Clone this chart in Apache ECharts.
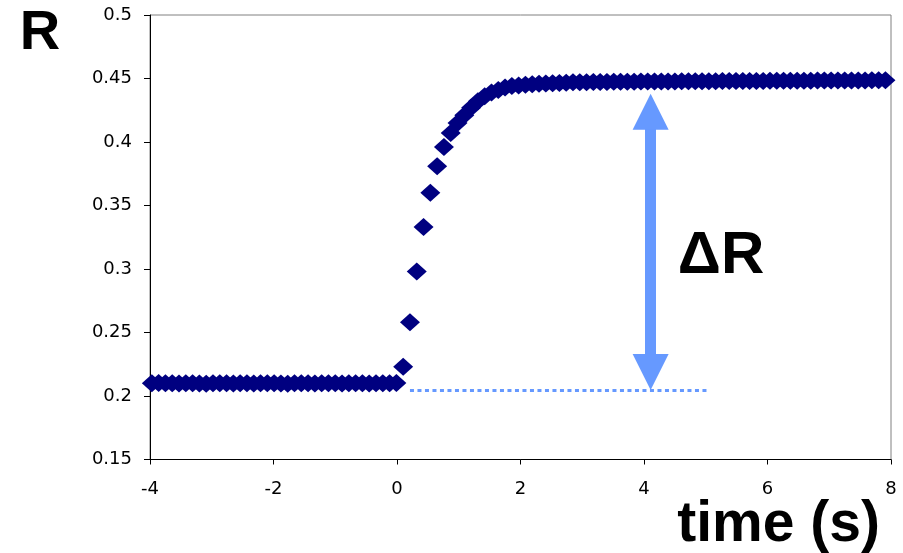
<!DOCTYPE html>
<html>
<head>
<meta charset="utf-8">
<title>R vs time</title>
<script src="https://cdn.jsdelivr.net/npm/echarts@6/dist/echarts.min.js"></script>
<style>
    html, body { margin: 0; padding: 0; background: #ffffff; }
    #chart { width: 903px; height: 553px; }
</style>
</head>
<body>
<div id="chart"></div>
<script>
    // time (s) of each sample
    var times = [
        -3.97, -3.86, -3.75, -3.64, -3.53, -3.42, -3.31, -3.20, -3.09, -2.98,
        -2.87, -2.76, -2.65, -2.54, -2.43, -2.32, -2.21, -2.10, -1.99, -1.88,
        -1.77, -1.66, -1.55, -1.44, -1.33, -1.22, -1.11, -1.00, -0.89, -0.78,
        -0.67, -0.56, -0.45, -0.34, -0.23, -0.12, -0.01,
        0.10, 0.21, 0.32, 0.43, 0.54, 0.65, 0.76, 0.87, 0.98, 1.09,
        1.20, 1.31, 1.42, 1.53, 1.64, 1.75, 1.86, 1.97, 2.08, 2.19,
        2.30, 2.41, 2.52, 2.63, 2.74, 2.85, 2.96, 3.07, 3.18, 3.29,
        3.40, 3.51, 3.62, 3.73, 3.84, 3.95, 4.06, 4.17, 4.28, 4.39,
        4.50, 4.61, 4.72, 4.83, 4.94, 5.05, 5.16, 5.27, 5.38, 5.49,
        5.60, 5.71, 5.82, 5.93, 6.04, 6.15, 6.26, 6.37, 6.48, 6.59,
        6.70, 6.81, 6.92, 7.03, 7.14, 7.25, 7.36, 7.47, 7.58, 7.69,
        7.80, 7.91
    ];
    // measured R
    var resistance = [
        0.2100, 0.2102, 0.2100, 0.2101, 0.2099, 0.2100, 0.2101, 0.2098, 0.2096, 0.2100,
        0.2101, 0.2100, 0.2099, 0.2101, 0.2100, 0.2099, 0.2100, 0.2101, 0.2100, 0.2099,
        0.2096, 0.2100, 0.2101, 0.2100, 0.2099, 0.2100, 0.2101, 0.2100, 0.2099, 0.2101,
        0.2100, 0.2100, 0.2099, 0.2101, 0.2100, 0.2100, 0.2102,
        0.223, 0.258, 0.298, 0.333, 0.360, 0.381, 0.396, 0.407, 0.415, 0.421,
        0.427, 0.432, 0.436, 0.439, 0.441, 0.443, 0.444, 0.4445, 0.4450, 0.4455,
        0.4458, 0.4460, 0.4462, 0.4465, 0.4467, 0.4470, 0.4470, 0.4471, 0.4472, 0.4472,
        0.4473, 0.4474, 0.4474, 0.4475, 0.4475, 0.4476, 0.4476, 0.4476, 0.4477, 0.4477,
        0.4477, 0.4478, 0.4478, 0.4478, 0.4479, 0.4479, 0.4479, 0.4480, 0.4480, 0.4480,
        0.4480, 0.4481, 0.4481, 0.4481, 0.4482, 0.4482, 0.4482, 0.4482, 0.4483, 0.4483,
        0.4483, 0.4484, 0.4484, 0.4484, 0.4484, 0.4485, 0.4485, 0.4485, 0.4485, 0.4486,
        0.4486, 0.4486
    ];
    var xTicks = [-4, -2, 0, 2, 4, 6, 8];
    var yTicks = [0.15, 0.2, 0.25, 0.3, 0.35, 0.4, 0.45, 0.5];

    // baseline (dotted) and the ΔR arrow, in data units
    var baseLine = [[0.21, 0.2047], [5.06, 0.2047]];
    var deltaArrow = [[4.107, 0.2189], [4.107, 0.4238]];

    var points = times.map(function (t, i) { return [t, resistance[i]]; });

    var chart = echarts.init(document.getElementById('chart'), null, { renderer: 'canvas' });

    var labelStyle = {
        color: '#000000',
        fontFamily: 'DejaVu Sans',
        fontSize: 18
    };

    chart.setOption({
        animation: false,
        backgroundColor: '#ffffff',
        grid: {
            left: 150,
            right: 12,
            top: 15,
            bottom: 93.5,
            show: true,
            borderColor: '#808080',
            borderWidth: 1,
            containLabel: false,
            outerBoundsMode: 'none'
        },
        xAxis: {
            type: 'value',
            min: xTicks[0],
            max: xTicks[xTicks.length - 1],
            interval: xTicks[1] - xTicks[0],
            splitLine: { show: false },
            axisLine: { onZero: false, lineStyle: { color: '#000000', width: 1 } },
            axisTick: { show: true, inside: false, length: 5, lineStyle: { color: '#000000' } },
            axisLabel: Object.assign({ margin: 21 }, labelStyle)
        },
        yAxis: {
            type: 'value',
            min: yTicks[0],
            max: yTicks[yTicks.length - 1],
            interval: 0.05,
            splitLine: { show: false },
            axisLine: { show: true, onZero: false, lineStyle: { color: '#000000', width: 1 } },
            axisTick: { show: true, inside: false, length: 6, lineStyle: { color: '#000000' } },
            axisLabel: Object.assign({
                margin: 18,
                formatter: function (v) { return String(+v.toFixed(2)); }
            }, labelStyle)
        },
        series: [
            {
                type: 'scatter',
                data: points,
                symbol: 'diamond',
                symbolSize: [20, 18],
                itemStyle: { color: '#000080', opacity: 1 },
                z: 3,
                markLine: {
                    silent: true,
                    animation: false,
                    label: { show: false },
                    emphasis: { disabled: true },
                    data: [
                        [
                            {
                                coord: baseLine[0],
                                symbol: 'none',
                                lineStyle: { color: '#6699ff', width: 3, type: [4, 3.5], opacity: 1 }
                            },
                            { coord: baseLine[1], symbol: 'none' }
                        ],
                        [
                            {
                                coord: deltaArrow[0],
                                symbol: 'triangle',
                                symbolSize: [36, 36],
                                lineStyle: { color: '#6699ff', width: 11, type: 'solid', opacity: 1 },
                                itemStyle: { color: '#6699ff' }
                            },
                            {
                                coord: deltaArrow[1],
                                symbol: 'triangle',
                                symbolSize: [36, 36],
                                itemStyle: { color: '#6699ff' }
                            }
                        ]
                    ]
                }
            }
        ],
        graphic: [
            {
                type: 'text',
                x: 40,
                y: 34,
                style: {
                    text: 'R',
                    fill: '#000000',
                    font: 'bold 56px "Liberation Sans", Arial, sans-serif',
                    align: 'center',
                    verticalAlign: 'middle'
                }
            },
            {
                type: 'text',
                x: 721,
                y: 256,
                style: {
                    text: 'ΔR',
                    fill: '#000000',
                    font: 'bold 60px "Liberation Sans", Arial, sans-serif',
                    align: 'center',
                    verticalAlign: 'middle'
                }
            },
            {
                type: 'text',
                x: 880,
                y: 525,
                style: {
                    text: 'time (s)',
                    fill: '#000000',
                    font: 'bold 57px "Liberation Sans", Arial, sans-serif',
                    align: 'right',
                    verticalAlign: 'middle'
                }
            }
        ]
    });
</script>
</body>
</html>
